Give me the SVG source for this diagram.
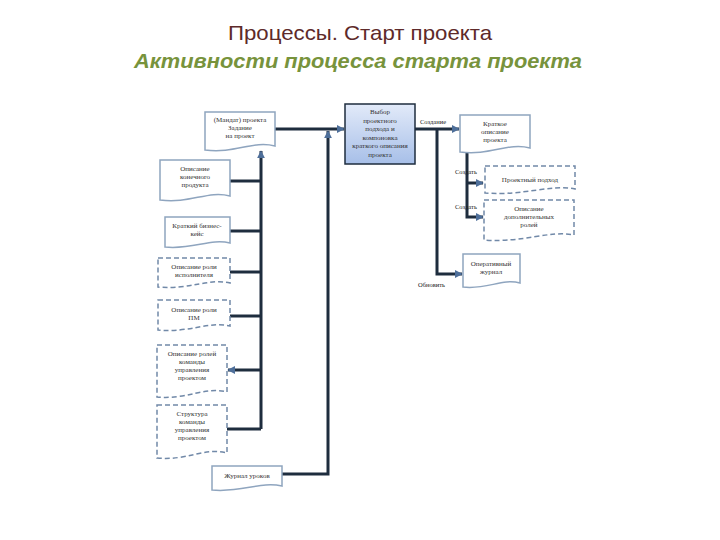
<svg xmlns="http://www.w3.org/2000/svg" width="720" height="540" viewBox="0 0 720 540">
<defs>
<linearGradient id="cg" x1="0" y1="0" x2="0" y2="1">
<stop offset="0" stop-color="#E2EAF9"/>
<stop offset="1" stop-color="#A7BFE8"/>
</linearGradient>
<marker id="ar" viewBox="0 0 10 10" refX="9" refY="5" markerWidth="8" markerHeight="8" markerUnits="userSpaceOnUse" orient="auto">
<path d="M0,0 L10,5 L0,10 Z" fill="#4E6F9A"/>
</marker>
<style>
.t1{font-family:"Liberation Sans",Arial,sans-serif;font-size:21px;fill:#5E2A2A;text-anchor:middle}
.t2{font-family:"Liberation Sans",Arial,sans-serif;font-size:21px;font-weight:bold;font-style:italic;fill:#77933C;text-anchor:middle}
.doc{fill:#FFFFFF;stroke:#8FA5BF;stroke-width:1.5}
.dash{fill:#FFFFFF;stroke:#7189A8;stroke-width:1.5;stroke-dasharray:5 3}
.tx{font-family:"Liberation Serif","Times New Roman",serif;font-size:7px;fill:#333333;text-anchor:middle}
.lb{font-family:"Liberation Serif","Times New Roman",serif;font-size:6.5px;fill:#222222}
.cn{fill:none;stroke:#1E2D3E;stroke-width:3}
</style>
</defs>
<rect width="720" height="540" fill="#FFFFFF"/>
<text class="t1" x="360" y="40" textLength="264" lengthAdjust="spacingAndGlyphs">Процессы. Старт проекта</text>
<text class="t2" x="358" y="68" textLength="448" lengthAdjust="spacingAndGlyphs">Активности процесса старта проекта</text>

<g id="connectors">
<path class="cn" d="M275,129 H344" marker-end="url(#ar)"/>
<path class="cn" d="M230,181 H261"/>
<path class="cn" d="M230,231 H261"/>
<path class="cn" d="M230,272 H261"/>
<path class="cn" d="M230,316 H261"/>
<path class="cn" d="M261,370 H228" marker-end="url(#ar)"/>
<path class="cn" d="M227,429 H261"/>
<path class="cn" d="M261,429 V151" marker-end="url(#ar)"/>
<path class="cn" d="M282,474 H328 V131" marker-end="url(#ar)"/>
<path class="cn" d="M415,129 H459" marker-end="url(#ar)"/>
<path class="cn" d="M437,129 V274 H462" marker-end="url(#ar)"/>
<path class="cn" d="M467,153 V217 H483" marker-end="url(#ar)"/>
<path class="cn" d="M467,183 H483" marker-end="url(#ar)"/>
<text class="lb" x="420" y="124">Создание</text>
<text class="lb" x="455" y="174">Создать</text>
<text class="lb" x="455" y="209">Создать</text>
<text class="lb" x="418" y="287">Обновить</text>
</g>

<g id="center">
<rect x="345" y="104" width="70" height="60" fill="url(#cg)" stroke="#1E2D3E" stroke-width="1.5"/>
<text class="tx" x="380" y="114">Выбор</text>
<text class="tx" x="380" y="122.5">проектного</text>
<text class="tx" x="380" y="131">подхода и</text>
<text class="tx" x="380" y="139.5">компоновка</text>
<text class="tx" x="380" y="148">краткого описания</text>
<text class="tx" x="380" y="156.5">проекта</text>
</g>

<g id="mandate">
<path class="doc" d="M205,112 H275 V146 C253,140 235,154 205,150 Z"/>
<text class="tx" x="240" y="122">(Мандат) проекта</text>
<text class="tx" x="240" y="130">Задание</text>
<text class="tx" x="240" y="138">на проект</text>
</g>

<g id="product">
<path class="doc" d="M160,160 H230 V196 C208,190 190,204 160,200 Z"/>
<text class="tx" x="195" y="171">Описание</text>
<text class="tx" x="195" y="179">конечного</text>
<text class="tx" x="195" y="187">продукта</text>
</g>

<g id="business">
<path class="doc" d="M165,217 H230 V243 C210,238 193,250 165,247 Z"/>
<text class="tx" x="197" y="228">Краткий бизнес-</text>
<text class="tx" x="197" y="236">кейс</text>
</g>

<g id="role-exec">
<path class="dash" d="M158,258 H230 V283 C208,278 190,290 158,287 Z"/>
<text class="tx" x="194" y="269">Описание роли</text>
<text class="tx" x="194" y="277">исполнителя</text>
</g>

<g id="role-pm">
<path class="dash" d="M158,300 H230 V326 C208,321 190,333 158,330 Z"/>
<text class="tx" x="194" y="312">Описание роли</text>
<text class="tx" x="194" y="320">ПМ</text>
</g>

<g id="team-roles">
<path class="dash" d="M157,345 H227 V392 C205,386 187,400 157,397 Z"/>
<text class="tx" x="192" y="356">Описание ролей</text>
<text class="tx" x="192" y="364">команды</text>
<text class="tx" x="192" y="372">управления</text>
<text class="tx" x="192" y="380">проектом</text>
</g>

<g id="team-structure">
<path class="dash" d="M157,405 H227 V453 C205,447 187,461 157,458 Z"/>
<text class="tx" x="192" y="416">Структура</text>
<text class="tx" x="192" y="424">команды</text>
<text class="tx" x="192" y="432">управления</text>
<text class="tx" x="192" y="440">проектом</text>
</g>

<g id="lessons">
<path class="doc" d="M212,466 H282 V486 C260,481 242,493 212,490 Z"/>
<text class="tx" x="247" y="478">Журнал уроков</text>
</g>

<g id="brief">
<path class="doc" d="M460,115 H530 V148 C508,142 490,156 460,152 Z"/>
<text class="tx" x="495" y="126">Краткое</text>
<text class="tx" x="495" y="134">описание</text>
<text class="tx" x="495" y="142">проекта</text>
</g>

<g id="approach">
<path class="dash" d="M485,166 H575 V189 C550,184 525,196 485,193 Z"/>
<text class="tx" x="530" y="182">Проектный подход</text>
</g>

<g id="add-roles">
<path class="dash" d="M484,200 H574 V235 C549,230 524,243 484,240 Z"/>
<text class="tx" x="529" y="211">Описание</text>
<text class="tx" x="529" y="219">дополнительных</text>
<text class="tx" x="529" y="227">ролей</text>
</g>

<g id="daily-log">
<path class="doc" d="M463,254 H520 V283 C502,278 487,290 463,287 Z"/>
<text class="tx" x="491" y="266">Оперативный</text>
<text class="tx" x="491" y="274">журнал</text>
</g>
</svg>
